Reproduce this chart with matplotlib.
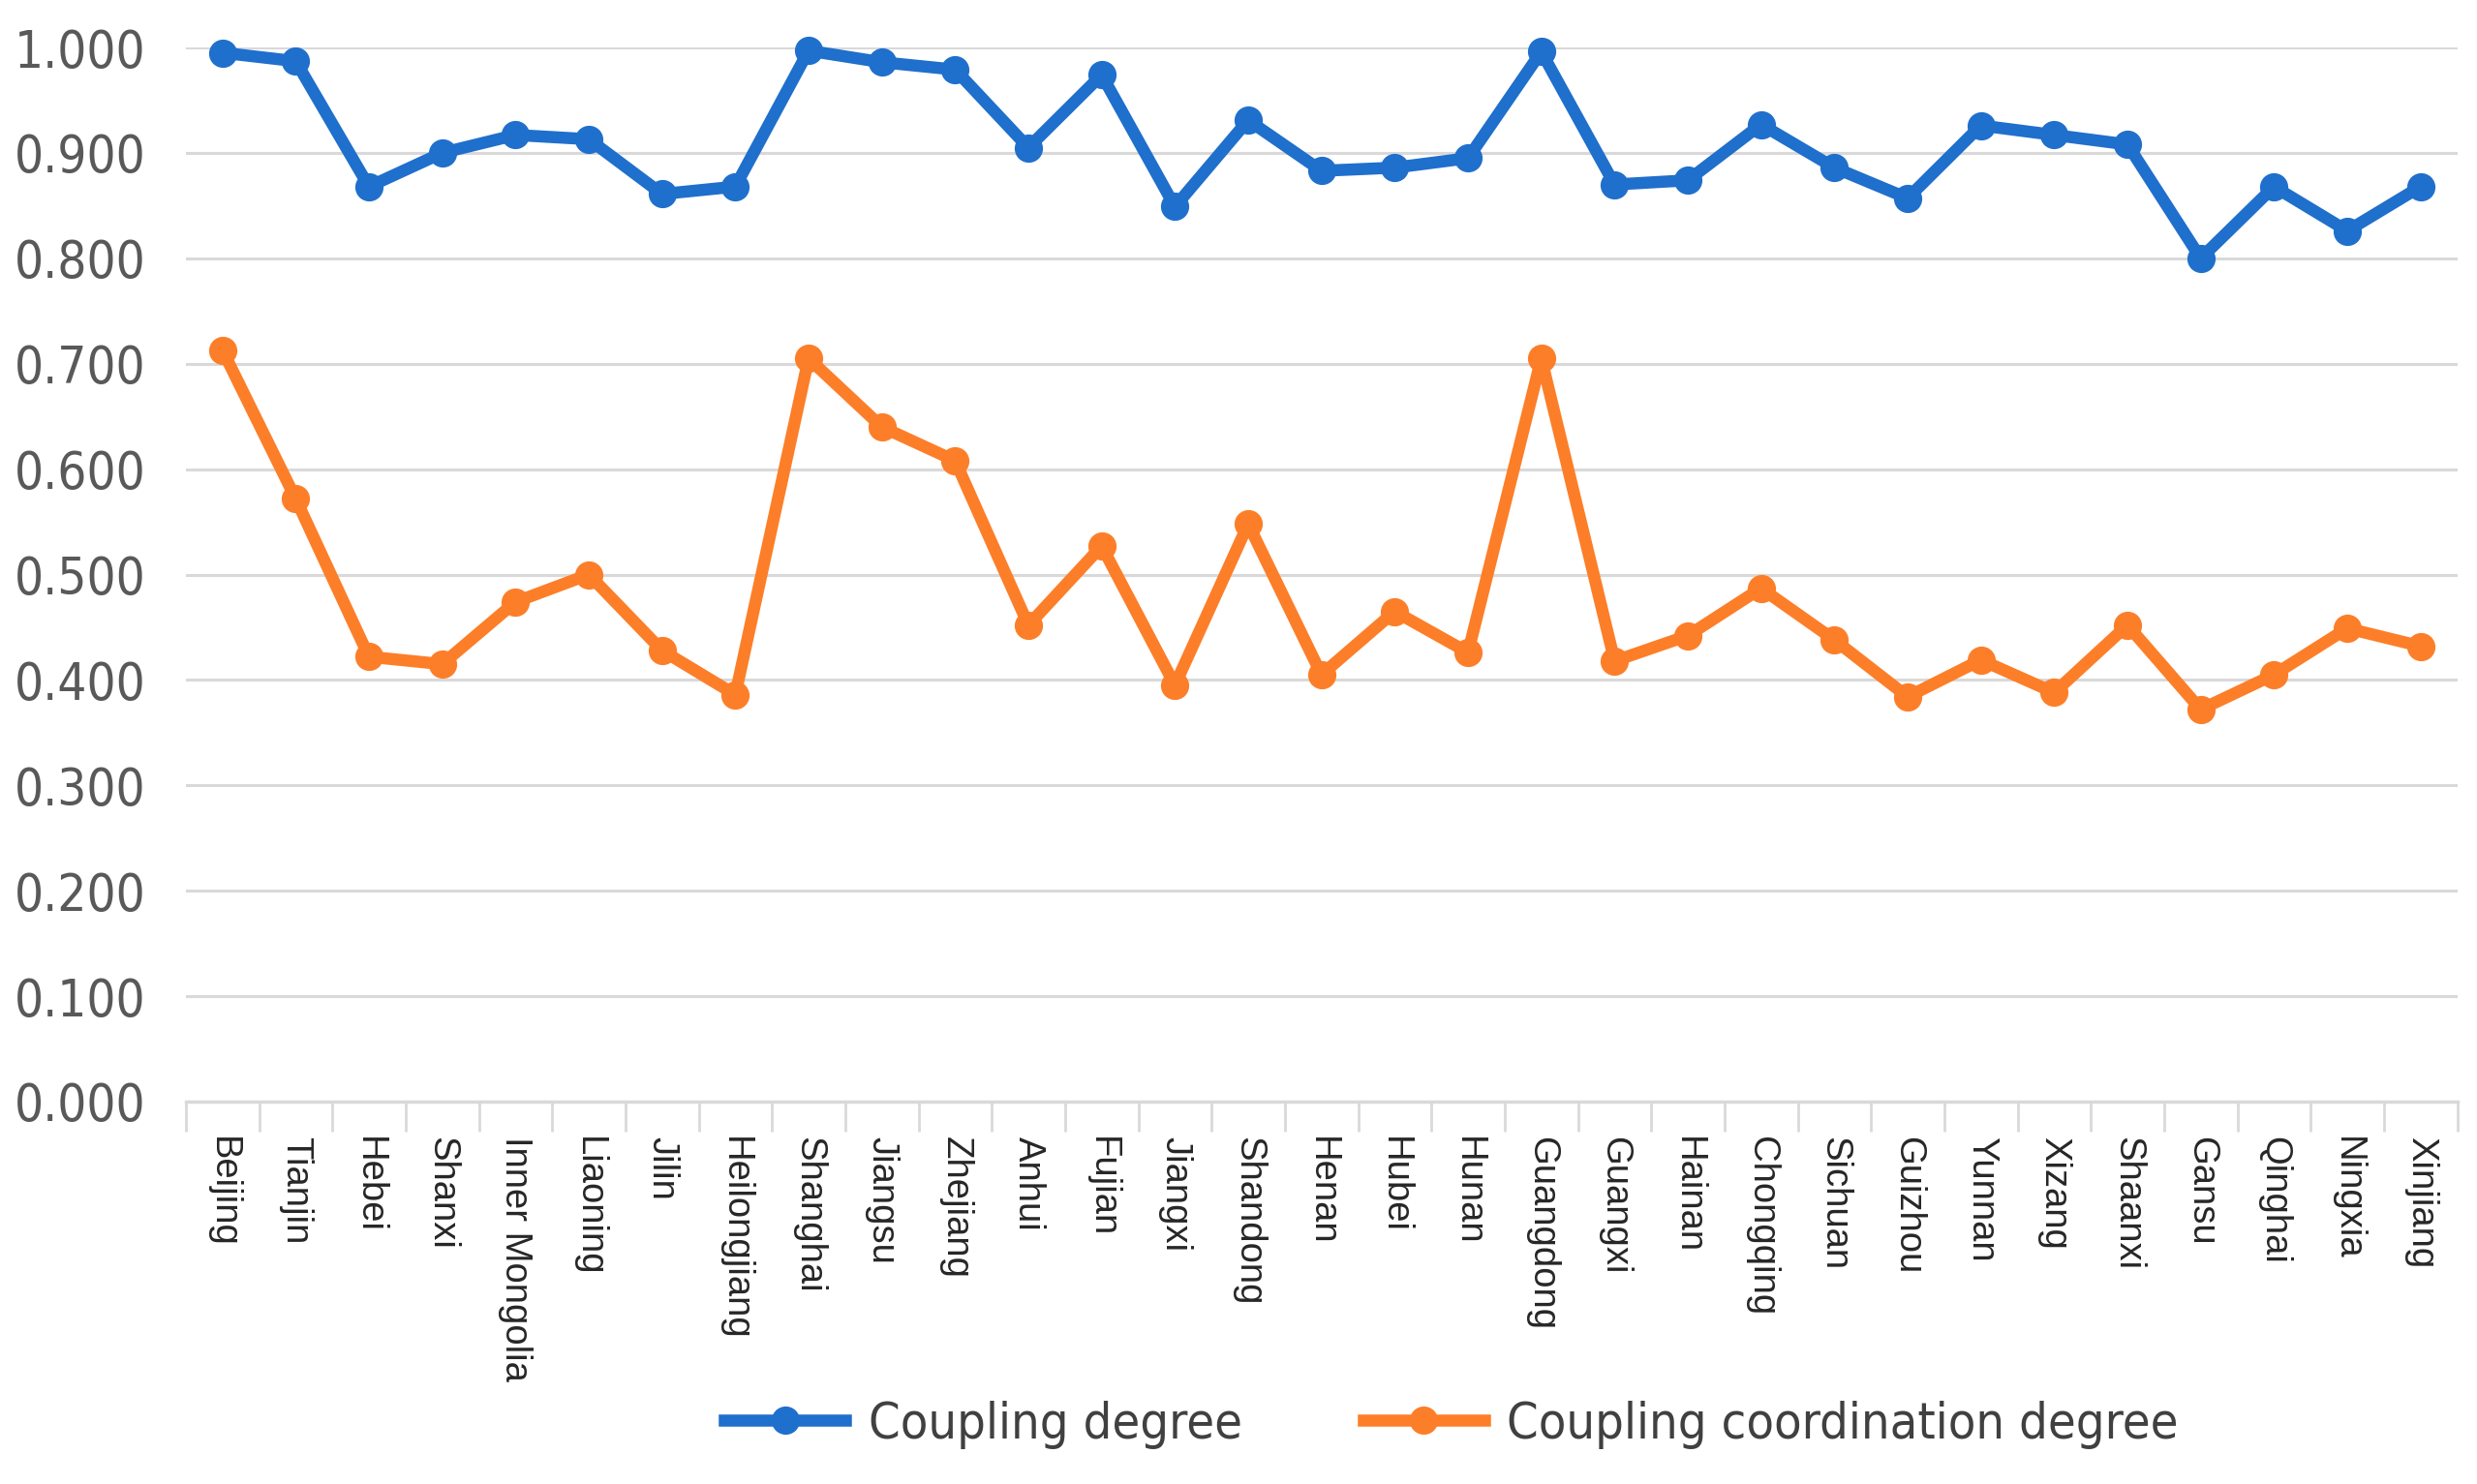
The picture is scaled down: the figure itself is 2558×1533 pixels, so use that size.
import matplotlib
matplotlib.use("Agg")
import matplotlib.pyplot as plt
from matplotlib import font_manager
import numpy as np

provinces = ["Beijing", "Tianjin", "Hebei", "Shanxi", "Inner Mongolia", "Liaoning", "Jilin",
             "Heilongjiang", "Shanghai", "Jiangsu", "Zhejiang", "Anhui", "Fujian", "Jiangxi",
             "Shandong", "Henan", "Hubei", "Hunan", "Guangdong", "Guangxi", "Hainan",
             "Chongqing", "Sichuan", "Guizhou", "Yunnan", "Xizang", "Shaanxi", "Gansu",
             "Qinghai", "Ningxia", "Xinjiang"]

coupling_degree = [0.995, 0.987, 0.868, 0.900, 0.917, 0.913, 0.861, 0.868, 0.997, 0.986,
                   0.979, 0.905, 0.974, 0.849, 0.931, 0.883, 0.886, 0.895, 0.996, 0.870,
                   0.874, 0.927, 0.886, 0.857, 0.926, 0.917, 0.908, 0.800, 0.868, 0.826,
                   0.868]

coordination_degree = [0.713, 0.572, 0.422, 0.415, 0.474, 0.500, 0.428, 0.386, 0.705, 0.640,
                       0.608, 0.452, 0.527, 0.395, 0.548, 0.405, 0.465, 0.426, 0.705, 0.418,
                       0.442, 0.487, 0.438, 0.384, 0.419, 0.388, 0.452, 0.372, 0.405, 0.449,
                       0.432]

y_ticks = [0.0, 0.1, 0.2, 0.3, 0.4, 0.5, 0.6, 0.7, 0.8, 0.9, 1.0]
series_names = ["Coupling degree", "Coupling coordination degree"]

installed = {f.name for f in font_manager.fontManager.ttflist}
label_font = "Liberation Sans" if "Liberation Sans" in installed else "DejaVu Sans"

blue = "#1f6fcc"
orange = "#fd7e28"
grid_c = "#d9d9d9"

fig = plt.figure(figsize=(25.58, 15.33), dpi=100)
ax = fig.add_axes([0.075, 0.2577, 0.917, 0.7103])

x = np.arange(len(provinces))
ax.plot(x, coupling_degree, color=blue, lw=9, marker="o", ms=20, clip_on=False,
        zorder=3, label=series_names[0])
ax.plot(x, coordination_degree, color=orange, lw=9, marker="o", ms=20, clip_on=False,
        zorder=3, label=series_names[1])

ax.set_xlim(-0.5, len(provinces) - 0.5)
ax.set_ylim(0, 1.0)
ax.set_yticks(y_ticks)
ax.set_yticklabels([f"{v:.3f}" for v in y_ticks], family="DejaVu Sans",
                   fontstretch="condensed", fontsize=38, color="#595959")
ax.yaxis.grid(True, color=grid_c, lw=2.2)
ax.set_axisbelow(True)
ax.tick_params(axis="y", length=0, pad=30)

# category boundaries as major ticks, labels on minor ticks
ax.set_xticks(np.arange(-0.5, len(provinces), 1.0))
ax.set_xticklabels([])
ax.tick_params(axis="x", which="major", length=22, width=2, color=grid_c)
ax.set_xticks(x, minor=True)
ax.set_xticklabels(provinces, minor=True, rotation=-90, fontsize=27.5,
                   family=[label_font, "DejaVu Sans"], color="#262626", va="top", ha="center")
ax.tick_params(axis="x", which="minor", length=0, pad=26)

for s in ["top", "right", "left"]:
    ax.spines[s].set_visible(False)
ax.spines["bottom"].set_color(grid_c)
ax.spines["bottom"].set_linewidth(2.5)

fig.legend(loc="center", bbox_to_anchor=(0.586, 0.04), ncol=2, frameon=False,
           handlelength=2.4, columnspacing=2.4, handletextpad=0.45,
           prop={"family": "DejaVu Sans", "stretch": "condensed", "size": 37.5},
           labelcolor="#404040")

fig.savefig("out.png", dpi=100)
